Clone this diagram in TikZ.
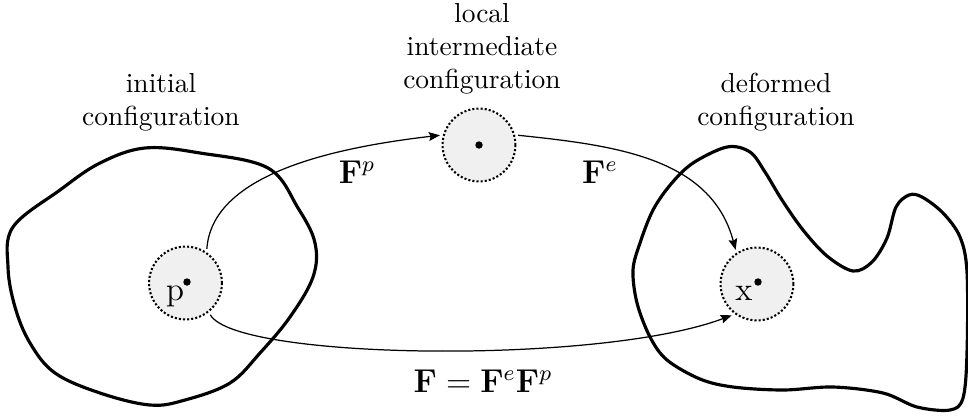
\documentclass[tikz,border=0pt]{standalone}
\usetikzlibrary{arrows.meta}
\begin{document}
\begin{tikzpicture}[x=0.3636pt,y=-0.3636pt,
  blob/.style={line width=1.15pt,line join=round},
  locc/.style={circle,draw,dash pattern=on 0.75pt off 0.75pt,line width=0.75pt,fill=black!6,minimum size=26.5pt,inner sep=0pt,outer sep=1.4pt},
  ctr/.style={circle,fill=black,inner sep=0pt,minimum size=2.7pt},
  conn/.style={line width=0.45pt,-{Stealth[length=4pt,width=3.2pt,inset=0.6pt]}},
  lbl/.style={font=\normalsize,align=center,anchor=base},
  mlbl/.style={anchor=base,inner sep=0pt}]
\useasboundingbox (0,0) rectangle (968,418);
% bodies
\draw[blob] plot[smooth cycle,tension=0.6] coordinates {
 (13,227) (60,190) (100,163) (145,148) (200,153) (268,168) (298,208) (315,243) (313,277)
 (290,317) (260,353) (230,383) (185,400) (150,405) (100,393) (55,373) (30,343) (15,307) (8,267)};
\draw[blob] plot[smooth cycle,tension=0.55] coordinates {
 (693,163) (727,147) (750,152) (765,172) (782,200) (803,230) (827,256) (853,271) (872,262)
 (887,238) (896,207) (909,195) (922,197) (943,213) (960,237) (967,272) (967,353) (963,398)
 (950,410) (917,407) (883,393) (833,387) (783,390) (733,387) (700,379) (667,360) (650,337)
 (637,303) (633,270) (640,243) (653,210) (671,184)};
% local neighbourhoods
\node[locc] (P) at (185.5,283) {};
\node[locc] (I) at (479,145) {};
\node[locc] (X) at (757,284) {};
\node[ctr] (Pd) at (187,282) {};
\node[ctr] (Id) at (I.center) {};
\node[ctr] (Xd) at (758,282) {};
\node[mlbl,font=\large] (pl) at (175,300) {p};
\node[mlbl,font=\large] (xl) at (744,300) {x};
% titles
\node[lbl] (t1) at (161,125) {initial\\configuration};
\node[lbl] (t2) at (482,88) {local\\intermediate\\configuration};
\node[lbl] (t3) at (776,125) {deformed\\configuration};
% maps
\draw[conn] (P.58) .. controls (212,175) and (330,148) .. (I.166);
\draw[conn] (I.14) to[out=-6,in=105] (X.122);
\draw[conn] (P.-52) .. controls (235,360) and (600,365) .. (X.231);
\node[mlbl,font=\large] (Fp) at (357,183) {$\mathbf{F}^p$};
\node[mlbl,font=\large] (Fe) at (600,183) {$\mathbf{F}^e$};
\node[mlbl,font=\large] (F) at (483,392) {$\mathbf{F}=\mathbf{F}^e\mathbf{F}^p$};
\end{tikzpicture}
\end{document}
